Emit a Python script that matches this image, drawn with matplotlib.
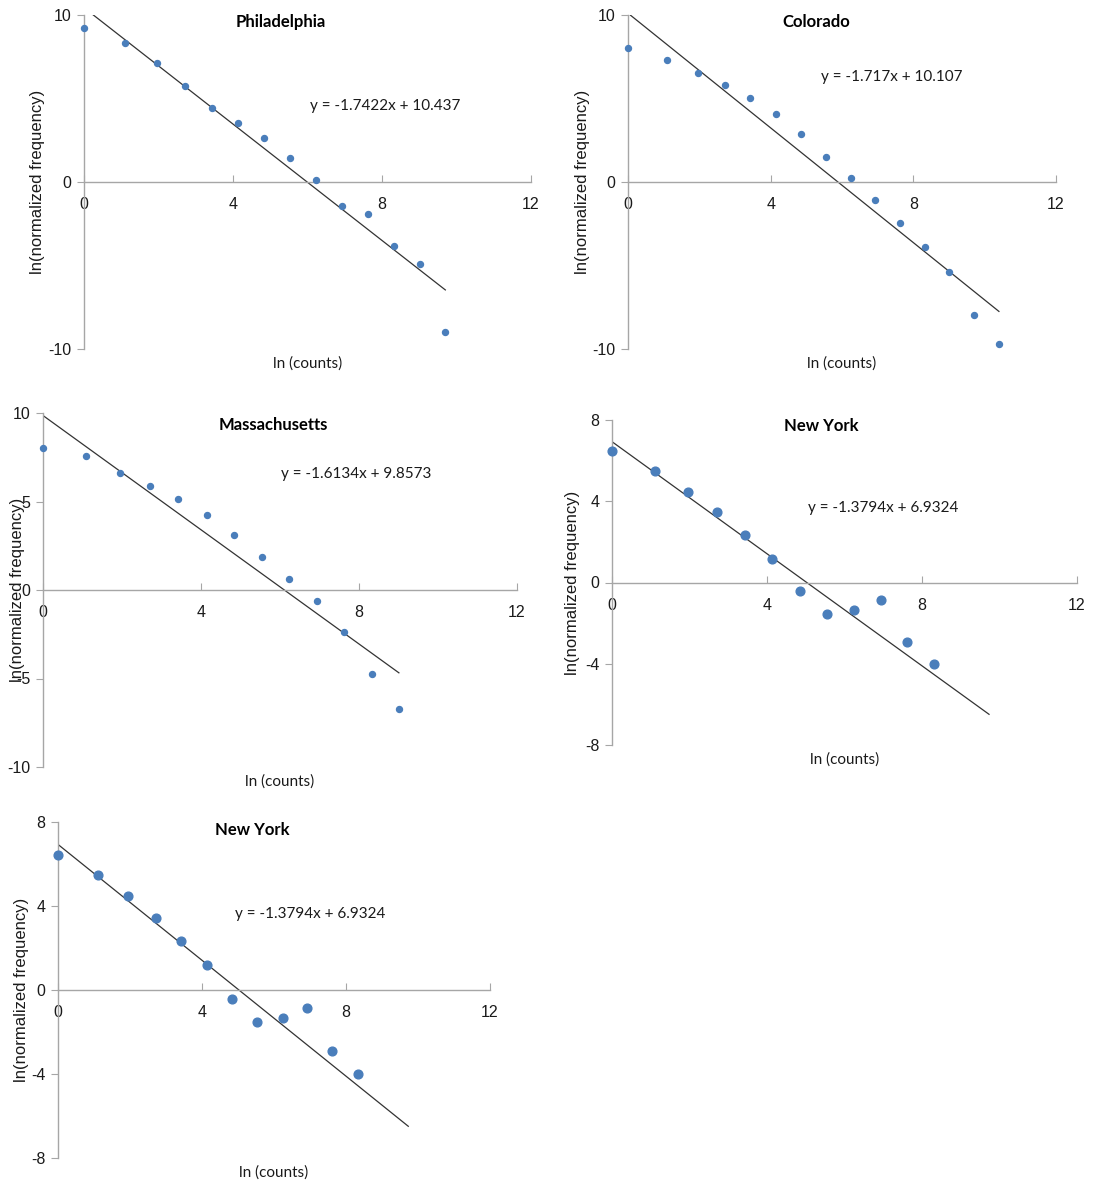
import numpy as np
import matplotlib
matplotlib.use('Agg')
import matplotlib.pyplot as plt

plt.rcParams['axes.unicode_minus'] = False
plt.rcParams['font.family'] = 'Liberation Sans'

# ln(counts) bins and ln(normalized frequency) per location
phil_x = [0, 1.10, 1.95, 2.71, 3.43, 4.14, 4.84, 5.54, 6.24, 6.93, 7.62, 8.32, 9.01, 9.70]
phil_y = [9.22, 8.32, 7.13, 5.75, 4.43, 3.53, 2.63, 1.44, 0.12, -1.44, -1.92, -3.83, -4.91, -8.98]

colo_x = [0, 1.10, 1.95, 2.71, 3.43, 4.14, 4.84, 5.54, 6.24, 6.93, 7.62, 8.32, 9.01, 9.70, 10.40]
colo_y = [8.02, 7.31, 6.53, 5.81, 5.03, 4.07, 2.87, 1.50, 0.24, -1.08, -2.46, -3.89, -5.39, -7.96, -9.70]

mass_x = [0, 1.10, 1.95, 2.71, 3.43, 4.14, 4.84, 5.54, 6.24, 6.93, 7.62, 8.32, 9.01]
mass_y = [8.02, 7.57, 6.61, 5.88, 5.14, 4.24, 3.11, 1.86, 0.62, -0.62, -2.37, -4.75, -6.72]

ny_x = [0, 1.10, 1.95, 2.71, 3.43, 4.14, 4.84, 5.54, 6.24, 6.93, 7.62, 8.32]
ny_y = [6.45, 5.47, 4.48, 3.45, 2.32, 1.18, -0.44, -1.53, -1.33, -0.84, -2.91, -3.99]

# linear trendlines: slope, intercept, x where the line stops
phil_fit = (-1.7422, 10.437, 9.70)
colo_fit = (-1.717, 10.107, 10.40)
mass_fit = (-1.6134, 9.8573, 9.01)
ny_fit = (-1.3794, 6.9324, 9.73)

x_ticks = [0, 4, 8, 12]
y_ticks_10 = [-10, 0, 10]
y_ticks_mass = [-10, -5, 0, 5, 10]
y_ticks_8 = [-8, -4, 0, 4, 8]

BLUE = '#4a7ebb'
AXIS_GRAY = '#a6a6a6'
TEXT = '#1a1a1a'
NARROW = 'Lato'

fig = plt.figure(figsize=(10.93, 11.86), dpi=100)


def panel(rect, title, xs, ys, fit, yticks, msize, title_pos, eq_pos, ylab_x, px_h):
    ax = fig.add_axes(rect)
    ax.set_xlim(0, 12)
    ax.set_ylim(yticks[0], yticks[-1])

    slope, icpt, x_end = fit
    tx = np.array([0, x_end])
    ax.plot(tx, slope * tx + icpt, color='#333333', lw=0.9, zorder=2)
    ax.plot(xs, ys, 'o', color=BLUE, ms=msize, mec=BLUE, zorder=3, clip_on=False)

    for s in ['top', 'right']:
        ax.spines[s].set_visible(False)
    ax.spines['bottom'].set_position(('data', 0))
    for s in ['bottom', 'left']:
        ax.spines[s].set_color(AXIS_GRAY)
        ax.spines[s].set_linewidth(1.0)

    ax.set_xticks(x_ticks)
    ax.set_yticks(yticks)
    ax.tick_params(axis='x', direction='in', length=5, color=AXIS_GRAY, pad=11,
                   labelsize=11.5, labelcolor=TEXT)
    ax.tick_params(axis='y', direction='out', length=5, color=AXIS_GRAY, pad=4,
                   labelsize=11.5, labelcolor=TEXT)

    ax.text(title_pos[0], title_pos[1], title, transform=ax.transAxes, ha='center', va='center',
            fontsize=12, fontweight='bold', family=NARROW)
    ax.text(eq_pos[0], eq_pos[1], 'y = %gx + %g' % (slope, icpt), transform=ax.transAxes,
            ha='center', va='center', fontsize=11, family=NARROW, color=TEXT)
    ax.set_xlabel('ln (counts)', fontsize=11, family=NARROW, color=TEXT, va='center')
    ax.xaxis.set_label_coords(0.5, -15 / px_h)
    ax.set_ylabel('ln(normalized frequency)', fontsize=12, color=TEXT)
    ax.yaxis.set_label_coords(ylab_x, 0.5)
    return ax


W, H = 1093.0, 1186.0


def rect(x0, x1, y0, y1):
    return [x0 / W, 1 - y1 / H, (x1 - x0) / W, (y1 - y0) / H]


panel(rect(84, 531, 15, 349), 'Philadelphia', phil_x, phil_y, phil_fit, y_ticks_10, 4.3,
      (0.44, 0.98), (0.673, 0.728), -39 / 447, 334)
panel(rect(628, 1056, 15, 349), 'Colorado', colo_x, colo_y, colo_fit, y_ticks_10, 4.3,
      (0.44, 0.98), (0.617, 0.814), -38 / 428, 334)
panel(rect(43, 517, 413, 767), 'Massachusetts', mass_x, mass_y, mass_fit, y_ticks_mass, 4.3,
      (0.485, 0.966), (0.66, 0.828), -18 / 474, 354)
panel(rect(612, 1077, 420, 745), 'New York', ny_x, ny_y, ny_fit, y_ticks_8, 6.3,
      (0.45, 0.982), (0.583, 0.729), -32 / 465, 325)
panel(rect(58, 490, 822, 1158), 'New York', ny_x, ny_y, ny_fit, y_ticks_8, 6.3,
      (0.45, 0.976), (0.583, 0.726), -29 / 432, 336)

fig.savefig('out.png', dpi=100, facecolor='white')
